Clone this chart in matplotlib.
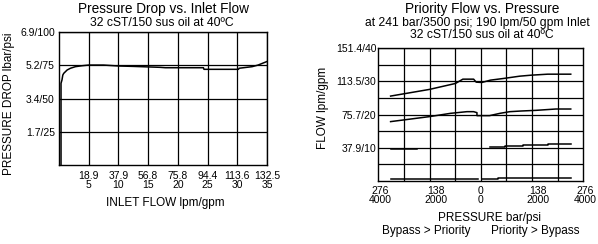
import matplotlib.pyplot as plt
from matplotlib.transforms import blended_transform_factory, offset_copy

plt.rcParams['font.family'] = ['Liberation Sans', 'DejaVu Sans']

# --- left chart: pressure drop vs inlet flow (x in gpm, y in psi)
flow_gpm = [0.34, 0.34, 0.5, 0.64, 0.8, 1.37, 1.93, 2.77, 3.9, 5.0, 7.5, 10.0,
            12.5, 17.0, 17.9, 24.3, 24.4, 30.2, 30.3, 32.5, 33.5, 34.9]
drop_psi = [0, 61.5, 64.0, 67.7, 69.0, 71.5, 72.8, 74.0, 74.7, 75.2, 75.2, 74.5,
            74.2, 73.5, 73.2, 73.2, 72.0, 72.0, 72.8, 74.0, 75.2, 77.7]
flow_ticks = [5, 10, 15, 20, 25, 30, 35]
flow_lpm = ['18.9', '37.9', '56.8', '75.8', '94.4', '113.6', '132.5']
drop_ticks = [25, 50, 75, 100]
drop_labels = ['1.7/25', '3.4/50', '5.2/75', '6.9/100']

# --- right chart: priority flow vs pressure (x in psi, negative = bypass side)
press_ticks = [-4000, -2000, 0, 2000, 4000]
press_labels = ['276\n4000', '138\n2000', '0\n0', '138\n2000', '276\n4000']
press_grid = [-3000, -2000, -1000, 0, 1000, 2000, 3000]
prio_ticks = [10, 20, 30, 40]
prio_labels = ['37.9/10', '75.7/20', '113.5/30', '151.4/40']
prio_grid = [5, 15, 25, 35]

c1_x = [-3520, -2010, -990, -700, -280, -180, 40, 375, 880, 1520, 1970, 2610, 3510]
c1_y = [25.6, 27.6, 29.4, 30.7, 30.7, 29.8, 29.7, 30.4, 30.9, 31.6, 31.9, 32.2, 32.2]
c2_x = [-3520, -2010, -1180, -540, -280, -150, -150, 40, 340, 750, 1135, 1580,
        2160, 2930, 3510]
c2_y = [17.9, 19.4, 20.4, 20.9, 20.9, 20.6, 19.7, 19.7, 19.7, 20.4, 20.9, 21.1,
        21.3, 21.7, 21.7]
c3a_x = [-3520, -2490]
c3a_y = [9.55, 9.55]
c3b_x = [340, 940, 940, 1650, 1650, 2610, 2610, 3510]
c3b_y = [10.2, 10.2, 10.55, 10.55, 10.85, 10.85, 11.15, 11.15]
c4a_x = [-3520, -100]
c4a_y = [0.5, 0.5]
c4b_x = [40, 680, 680, 3510]
c4b_y = [0.5, 0.5, 0.8, 0.8]

W, H = 598, 244
fig = plt.figure(figsize=(W / 100, H / 100), dpi=100)


def px(x, y):
    return x / W, 1 - y / H


def style(ax):
    for s in ax.spines.values():
        s.set_linewidth(1.0)
    ax.tick_params(which='both', length=0, labelsize=7.5)
    ax.grid(True, which='both', color='black', linewidth=0.9)
    ax.set_axisbelow(True)


# left axes
ax1 = fig.add_axes([59 / W, 1 - 165.3 / H, 208 / W, 133.3 / H])
style(ax1)
ax1.plot(flow_gpm, drop_psi, color='black', linewidth=1.1)
ax1.set_xlim(0, 35)
ax1.set_ylim(0, 100)
ax1.set_xticks(flow_ticks)
ax1.set_xticklabels([f'{a}\n{b}' for a, b in zip(flow_lpm, flow_ticks)],
                    linespacing=0.95)
ax1.set_yticks(drop_ticks)
ax1.set_yticklabels(drop_labels)
ax1.tick_params(axis='x', pad=4)
ax1.tick_params(axis='y', pad=3)

fig.text(*px(163, 8.5), 'Pressure Drop vs. Inlet Flow', ha='center', va='center',
         fontsize=9.8)
fig.text(*px(162, 22.5), '32 cST/150 sus oil at 40ºC', ha='center', va='center',
         fontsize=8.7)
fig.text(*px(165, 202.7), 'INLET FLOW lpm/gpm', ha='center', va='center',
         fontsize=8.5)
fig.text(*px(9, 103.5), 'PRESSURE DROP lbar/psi', ha='center', va='center',
         rotation=90, fontsize=8.5)

# right axes
ax2 = fig.add_axes([378.3 / W, 1 - 181 / H, 205 / W, 132.7 / H])
style(ax2)
for xs, ys in [(c1_x, c1_y), (c2_x, c2_y), (c3a_x, c3a_y), (c3b_x, c3b_y),
               (c4a_x, c4a_y), (c4b_x, c4b_y)]:
    ax2.plot(xs, ys, color='black', linewidth=1.1)
ax2.set_xlim(-4000, 4000)
ax2.set_ylim(0, 40)
ax2.set_xticks(press_grid)
ax2.set_xticklabels([])
ax2.set_yticks(prio_ticks)
ax2.set_yticklabels(prio_labels)
ax2.set_yticks(prio_grid, minor=True)
ax2.tick_params(axis='y', pad=1.5)

trans = blended_transform_factory(ax2.transData, ax2.transAxes)
label_dx = [2, 6, 0, 6, 2]
for t, lab, dx in zip(press_ticks, press_labels, label_dx):
    ax2.text(t, 0, lab, transform=offset_copy(trans, fig, x=dx, y=-5, units='dots'),
             ha='center', va='top', fontsize=7.5, linespacing=0.9)

fig.text(*px(482, 8.5), 'Priority Flow vs. Pressure', ha='center', va='center',
         fontsize=9.8)
fig.text(*px(477, 23), 'at 241 bar/3500 psi; 190 lpm/50 gpm Inlet', ha='center',
         va='center', fontsize=8.7)
fig.text(*px(482, 35.5), '32 cST/150 sus oil at 40ºC', ha='center', va='center',
         fontsize=8.7)
fig.text(*px(489, 218), 'PRESSURE bar/psi', ha='center', va='center', fontsize=8.5)
fig.text(*px(426.7, 231), 'Bypass > Priority', ha='center', va='center', fontsize=8.5)
fig.text(*px(535, 231), 'Priority > Bypass', ha='center', va='center', fontsize=8.5)
fig.text(*px(323, 108), 'FLOW lpm/gpm', ha='center', va='center', rotation=90,
         fontsize=8.5)

fig.savefig('out.png', dpi=100, facecolor='white')
